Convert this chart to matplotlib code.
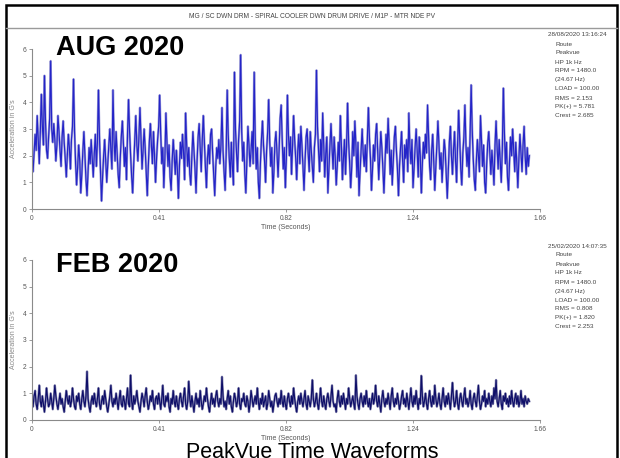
import matplotlib
matplotlib.use("Agg")
import matplotlib.pyplot as plt
from matplotlib.patches import Rectangle
from matplotlib.lines import Line2D
import numpy as np

plt.rcParams['font.family'] = ['Liberation Sans', 'DejaVu Sans']

# PeakVue waveform, AUG 2020 (G's)
aug_values = [
    1.9, 1.4, 2.1, 2.8, 2.2, 3.5, 2.6, 1.7, 2.9, 4.3, 3.1, 2.4, 5.0, 3.3, 2.2, 1.9, 2.7, 3.4, 5.55, 3.0,
    2.5, 3.2, 2.6, 1.8, 2.4, 3.5, 2.9, 2.2, 1.6, 2.7, 3.3, 2.5, 1.9, 1.2, 2.0, 2.8, 2.3, 1.5, 2.6, 3.1,
    4.87, 2.9, 1.7, 0.9, 1.6, 2.4, 1.8, 0.6, 1.3, 2.2, 2.9, 2.0, 1.1, 0.5, 1.4, 2.3, 1.7, 2.6, 1.9, 1.2,
    2.1, 2.8, 1.6, 2.5, 4.46, 2.7, 1.4, 0.3, 1.2, 2.0, 2.6, 1.8, 1.0, 1.7, 2.4, 3.0, 2.2, 1.5, 4.46, 2.6,
    1.8, 2.9, 2.1, 1.3, 0.8, 1.9, 2.7, 3.3, 2.5, 1.6, 2.3, 1.1, 2.8, 4.1, 2.9, 2.0, 1.2, 0.6, 1.7, 2.6,
    3.5, 2.4, 1.8, 2.7, 3.8, 2.6, 1.5, 2.2, 3.0, 2.3, 1.4, 0.5, 1.6, 2.5, 3.2, 2.4, 1.7, 2.9, 2.0, 1.0,
    1.9, 2.6, 3.1, 4.27, 2.8, 1.7, 2.3, 0.8, 1.9, 3.6, 2.5, 1.6, 2.4, 1.2, 0.7, 1.8, 2.6, 2.0, 1.3, 2.2,
    1.5, 0.4, 1.6, 2.5, 1.9, 2.8, 2.1, 1.1, 3.6, 2.4, 1.6, 2.3, 1.3, 0.9, 2.0, 2.9, 2.2, 1.5, 0.6, 1.8,
    2.7, 3.2, 2.3, 1.4, 2.6, 3.5, 2.5, 1.6, 0.8, 1.9, 2.4, 1.7, 2.8, 3.0, 2.1, 1.3, 0.5, 1.6, 2.3, 1.9,
    2.6, 1.7, 2.4, 3.8, 2.2, 1.4, 0.7, 2.0, 4.46, 2.8, 1.9, 1.2, 2.5, 1.6, 0.9, 5.13, 3.0, 2.1, 1.4, 2.6,
    3.3, 5.78, 2.9, 1.8, 2.5, 1.3, 0.6, 1.9, 3.1, 2.4, 1.6, 2.2, 2.9, 1.7, 5.13, 2.7, 1.5, 2.3, 1.0, 0.4,
    1.7, 2.6, 3.3, 2.4, 1.8, 1.0, 2.2, 2.9, 4.1, 2.5, 1.6, 2.3, 0.6, 1.4, 2.5, 2.9, 2.1, 1.2, 2.2, 3.4,
    3.9, 2.6, 1.5, 2.3, 0.8, 1.9, 4.27, 2.8, 2.0, 2.7, 1.3, 2.4, 3.5, 2.6, 1.9, 1.1, 2.2, 2.8, 1.7, 3.1,
    2.4, 1.6, 0.7, 1.8, 2.7, 3.0, 2.1, 1.4, 2.9, 2.2, 1.6, 1.0, 2.3, 2.8, 5.2, 3.1, 2.2, 1.4, 2.6, 1.8,
    3.6, 2.4, 1.2, 2.1, 2.7, 0.6, 1.5, 2.4, 3.2, 2.3, 1.5, 2.7, 2.0, 0.9, 1.6, 2.5, 1.8, 3.5, 2.4, 1.1,
    1.9, 2.6, 1.3, 2.4, 3.97, 2.5, 1.7, 0.8, 1.6, 2.9, 2.0, 3.3, 2.4, 1.2, 2.5, 0.5, 1.4, 2.2, 3.0, 2.1,
    1.6, 2.4, 1.4, 2.6, 3.8, 2.7, 1.9, 0.7, 1.5, 2.4, 1.8, 2.8, 3.2, 2.2, 1.1, 2.0, 2.9, 2.3, 1.5, 0.6,
    1.7, 2.8, 2.1, 3.4, 2.5, 1.3, 2.2, 0.9, 1.8, 2.7, 3.1, 2.2, 1.5, 0.5, 1.6, 2.3, 2.9, 1.8, 1.0, 2.4,
    1.9, 2.6, 1.4, 3.6, 2.3, 1.7, 2.6, 0.8, 1.5, 2.3, 3.0, 2.2, 1.2, 2.7, 2.0, 0.6, 1.7, 2.5, 1.9, 2.8,
    2.1, 3.9, 2.7, 1.6, 1.1, 2.2, 2.8, 1.7, 0.7, 1.6, 2.4, 3.3, 2.4, 1.5, 2.1, 1.0, 1.8, 2.6, 2.2, 1.3,
    0.4, 1.5, 2.5, 3.1, 2.0, 1.3, 2.2, 2.9, 1.8, 1.0, 2.5, 3.7, 2.6, 1.5, 0.9, 2.1, 2.7, 3.9, 2.4, 1.6,
    2.3, 1.2, 2.8, 4.65, 3.0, 1.9, 1.1, 0.7, 1.8, 2.6, 2.0, 1.4, 3.5, 2.5, 1.6, 2.4, 1.0, 0.6, 1.7, 2.5,
    2.9, 2.1, 1.3, 2.2, 1.6, 0.9, 2.4, 3.3, 2.3, 1.5, 2.6, 1.8, 1.0, 2.2, 4.53, 2.9, 1.7, 2.5, 1.2, 0.7,
    1.8, 2.7, 2.0, 3.0, 2.2, 1.4, 2.5, 1.7, 0.8, 1.9, 2.8, 2.1, 1.4, 2.4, 3.1, 2.0, 1.3, 2.3, 1.6, 2.0,
]

# PeakVue waveform, FEB 2020 (G's)
feb_values = [
    0.7, 0.5, 0.9, 1.1, 0.6, 0.4, 0.8, 1.3, 0.7, 0.5, 0.9, 0.6, 0.3, 0.7, 1.2, 0.8, 0.5, 0.6, 1.0, 0.7,
    0.4, 0.8, 1.3, 0.9, 0.6, 0.4, 0.7, 1.0, 0.6, 0.8, 0.5, 0.3, 0.7, 1.1, 0.8, 0.6, 0.9, 0.5, 0.7, 1.2,
    0.8, 0.5, 0.4, 0.9, 0.7, 1.0, 0.6, 0.4, 0.8, 1.1, 0.7, 0.5, 0.9, 1.82, 0.8, 0.5, 0.3, 0.7, 0.9, 0.6,
    1.0, 0.7, 0.5, 0.8, 1.2, 0.6, 0.4, 0.7, 0.9, 0.6, 1.1, 0.8, 0.5, 0.3, 0.6, 0.9, 1.3, 0.7, 0.5, 0.8,
    0.6, 1.0, 0.7, 0.4, 0.8, 1.1, 0.6, 0.5, 0.9, 0.7, 0.4, 0.8, 1.2, 0.6, 0.5, 1.68, 0.7, 0.4, 0.9, 0.6,
    0.8, 1.1, 0.7, 0.5, 0.3, 0.7, 1.0, 0.8, 0.5, 0.9, 1.2, 0.7, 0.4, 0.6, 0.9, 0.7, 1.1, 0.6, 0.4, 0.8,
    0.9, 0.6, 1.0, 0.7, 0.4, 0.8, 1.3, 0.6, 0.5, 0.9, 0.7, 1.0, 0.5, 0.3, 0.8, 0.6, 1.1, 0.7, 0.5, 0.9,
    0.6, 0.4, 0.8, 1.0, 0.7, 0.5, 0.9, 1.2, 0.6, 0.4, 0.7, 1.45, 0.8, 0.5, 0.9, 0.6, 0.3, 0.7, 1.0, 0.6,
    0.8, 0.5, 1.1, 0.7, 0.4, 0.6, 0.9, 0.7, 1.2, 0.8, 0.5, 0.3, 0.7, 1.0, 0.6, 0.8, 0.5, 0.9, 1.1, 0.7,
    0.5, 0.8, 0.6, 1.62, 0.9, 0.5, 0.7, 0.4, 0.8, 1.1, 0.6, 0.9, 0.5, 0.3, 0.7, 1.0, 0.8, 0.5, 0.7, 1.2,
    0.6, 0.4, 0.8, 0.7, 1.0, 0.6, 0.5, 0.9, 0.7, 0.3, 0.6, 1.1, 0.8, 0.5, 0.7, 0.9, 0.6, 1.2, 0.7, 0.4,
    0.8, 0.6, 1.0, 0.5, 0.7, 0.9, 0.4, 0.6, 1.1, 0.8, 0.5, 0.7, 0.3, 0.6, 0.9, 1.0, 0.7, 0.5, 0.8, 0.6,
    1.1, 0.7, 0.5, 0.9, 0.6, 0.4, 0.8, 1.0, 0.7, 0.5, 0.9, 0.6, 1.2, 0.8, 0.5, 0.3, 0.7, 0.9, 0.6, 1.0,
    0.7, 0.5, 0.8, 1.1, 0.6, 0.4, 0.9, 0.7, 0.5, 0.8, 1.5, 0.8, 0.5, 0.7, 1.0, 0.6, 0.4, 0.8, 1.2, 0.7,
    0.5, 0.9, 0.6, 0.4, 0.8, 1.0, 0.7, 0.5, 0.9, 1.3, 0.7, 0.5, 0.6, 0.3, 0.8, 1.1, 0.7, 0.5, 0.9, 0.6,
    1.0, 0.7, 0.4, 0.8, 0.6, 1.2, 0.8, 0.5, 0.7, 0.9, 0.6, 0.4, 1.68, 0.9, 0.6, 0.4, 0.8, 1.0, 0.7, 0.5,
    0.9, 0.6, 1.1, 0.7, 0.5, 0.8, 0.4, 0.7, 1.0, 0.6, 0.8, 1.3, 0.7, 0.5, 0.9, 0.6, 0.3, 0.8, 1.1, 0.7,
    0.5, 0.8, 0.6, 1.0, 0.7, 0.4, 0.9, 1.2, 0.7, 0.5, 0.8, 0.6, 1.0, 0.7, 0.4, 0.6, 0.9, 1.1, 0.6, 0.8,
    0.5, 1.0, 0.7, 0.4, 0.8, 1.2, 0.7, 0.5, 0.9, 0.6, 1.1, 0.7, 0.4, 0.8, 0.6, 1.66, 0.9, 0.5, 0.7, 1.0,
    0.6, 0.4, 0.8, 1.1, 0.7, 0.5, 0.9, 0.6, 1.3, 0.8, 0.5, 0.7, 1.0, 0.6, 0.4, 0.8, 1.2, 0.7, 0.5, 0.9,
    0.6, 1.0, 0.7, 0.4, 0.9, 1.4, 0.8, 0.5, 0.7, 1.1, 0.6, 0.4, 0.8, 1.0, 0.7, 0.5, 0.9, 1.2, 0.6, 0.8,
    0.5, 0.7, 1.1, 0.6, 0.4, 0.8, 1.0, 0.7, 0.5, 0.9, 1.3, 0.7, 0.4, 0.6, 0.9, 0.7, 1.1, 0.5, 0.8, 0.6,
    1.0, 0.7, 0.5, 0.9, 0.6, 1.2, 0.8, 1.5, 0.7, 0.5, 0.8, 1.1, 0.6, 0.4, 0.9, 0.7, 1.0, 0.6, 0.8, 0.5,
    0.9, 0.6, 1.1, 0.7, 0.5, 0.8, 1.0, 0.6, 0.9, 0.5, 0.7, 1.1, 0.6, 0.8, 0.5, 0.9, 0.7, 0.6, 0.8, 0.7,
]

record_seconds = 1.625
x_tick_pos = [0, 0.415, 0.83, 1.245, 1.66]
x_tick_labels = ['0', '0.41', '0.82', '1.24', '1.66']
y_ticks = [0, 1, 2, 3, 4, 5, 6]

title = "MG / SC DWN DRM - SPIRAL COOLER DWN DRUM DRIVE / M1P - MTR NDE PV"
aug_info = ["Route", "Peakvue", "HP 1k Hz", "RPM = 1480.0", "(24.67 Hz)",
            "LOAD = 100.00", "RMS = 2.153", "PK(+) = 5.781", "Crest = 2.685"]
feb_info = ["Route", "Peakvue", "HP 1k Hz", "RPM = 1480.0", "(24.67 Hz)",
            "LOAD = 100.00", "RMS = 0.808", "PK(+) = 1.820", "Crest = 2.253"]

W, H = 620, 458
fig = plt.figure(figsize=(W / 100, H / 100), dpi=100)


def fx(px):
    return px / W


def fy(py):
    return 1 - py / H


def waveform_axes(y_zero, values, dark, light, stamp, info, big_label, big_y):
    ax = fig.add_axes([fx(32), fy(y_zero), fx(540) - fx(32), 160 / H])
    t = np.linspace(0, record_seconds, len(values))
    ax.plot(t, values, color=light, lw=1.7)
    ax.plot(t, values, color=dark, lw=0.85)
    ax.set_xlim(0, 1.66)
    ax.set_ylim(0, 6)
    for s in ['top', 'right']:
        ax.spines[s].set_visible(False)
    for s in ['left', 'bottom']:
        ax.spines[s].set_color('#8a8a8a')
        ax.spines[s].set_linewidth(0.8)
    ax.set_xticks(x_tick_pos)
    ax.set_xticklabels(x_tick_labels)
    ax.set_yticks(y_ticks)
    ax.tick_params(length=2.5, width=0.6, color='#8a8a8a', labelsize=4.8,
                   labelcolor='#555555', pad=1.5)
    ax.set_xlabel("Time (Seconds)", fontsize=5, color='#555555', labelpad=1.5)
    ax.set_ylabel("Acceleration in G's", fontsize=5, color='#888888', labelpad=4)
    ax.patch.set_alpha(0)

    fig.text(fx(548), fy(y_zero - 174), stamp, fontsize=4.6, color='#444444',
             ha='left', va='center')
    for i, line in enumerate(info):
        fig.text(fx(555), fy(y_zero - 165 + 9 * i), line, fontsize=4.6,
                 color='#444444', ha='left', va='center')
    fig.text(fx(56), fy(big_y), big_label, fontsize=19.5, fontweight='bold',
             color='black', ha='left', va='center')
    return ax


waveform_axes(209, aug_values, '#2424c8', '#a4a4da', "28/08/2020 13:16:24",
              aug_info, "AUG 2020", 48)
waveform_axes(420, feb_values, '#0e0e68', '#8c8cb4', "25/02/2020 14:07:35",
              feb_info, "FEB 2020", 265)

# header band and outer frame
fig.text(fx(312), fy(16), title, fontsize=4.8, color='#444444', ha='center', va='center')
fig.add_artist(Line2D([fx(6), fx(617)], [fy(28), fy(28)], color='#9a9a9a', lw=1.0))
fig.add_artist(Rectangle((fx(6), fy(470)), fx(617) - fx(6), fy(5) - fy(470),
                         fill=False, edgecolor='black', lw=1.8))

fig.text(fx(312), fy(457.5), "PeakVue Time Waveforms", fontsize=15.5,
         color='black', ha='center', va='baseline')

fig.savefig("out.png", dpi=100)
